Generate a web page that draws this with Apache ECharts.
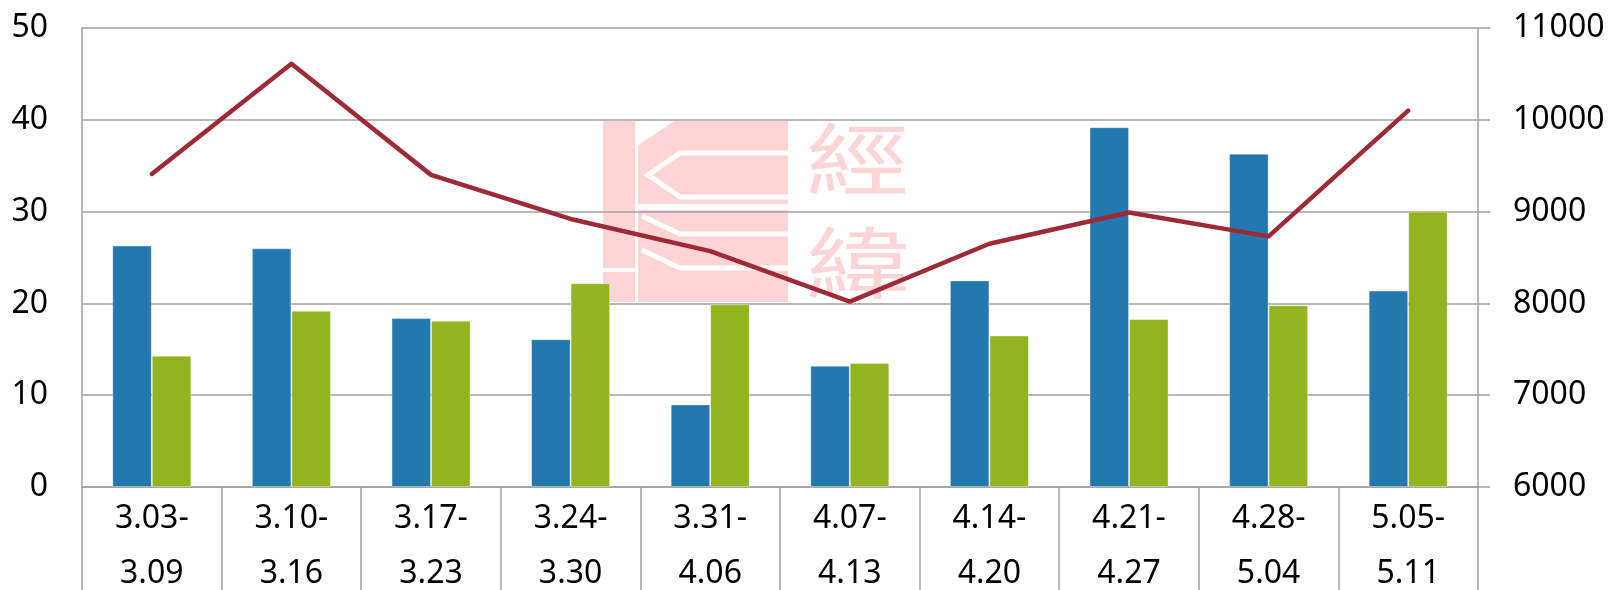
<!DOCTYPE html>
<html>
<head>
<meta charset="utf-8">
<script src="https://cdn.jsdelivr.net/npm/echarts@6/dist/echarts.min.js"></script>
<style>html,body{margin:0;padding:0;background:#fff}#c{width:1608px;height:590px}</style>
</head>
<body>
<div id="c"></div>
<script>
const categories = ['3.03-3.09','3.10-3.16','3.17-3.23','3.24-3.30','3.31-4.06','4.07-4.13','4.14-4.20','4.21-4.27','4.28-5.04','5.05-5.11'];
const blueValues = [26.3, 26.0, 18.4, 16.1, 9.0, 13.2, 22.5, 39.2, 36.3, 21.4];
const greenValues = [14.3, 19.2, 18.1, 22.2, 19.9, 13.5, 16.5, 18.3, 19.8, 30.0];
const lineValues = [9410, 10610, 9400, 8920, 8570, 8020, 8650, 8990, 8730, 10100];
const leftTicks = {min: 0, max: 50, interval: 10};
const rightTicks = {min: 6000, max: 11000, interval: 1000};

const gray = '#a0a0a0';
const font = '"Noto Sans", "DejaVu Sans", sans-serif';
const pink = '#ffd4d4';

const chart = echarts.init(document.getElementById('c'));
chart.setOption({
  animation: false,
  backgroundColor: '#fff',
  grid: {left: 82, right: 130, top: 28, bottom: 103, containLabel: false, outerBoundsMode: 'none'},
  graphic: [
    {type: 'rect', z: -10, silent: true, shape: {x: 603, y: 121, width: 32, height: 181}, style: {fill: pink}},
    {type: 'rect', z: -9, silent: true, shape: {x: 603, y: 268, width: 32, height: 4}, style: {fill: '#fff'}},
    {type: 'rect', z: -10, silent: true, shape: {x: 638, y: 121, width: 150, height: 181}, style: {fill: pink}},
    {type: 'polygon', z: -9, silent: true, shape: {points: [[637, 120], [676, 120], [637, 146]]}, style: {fill: '#fff'}},
    {type: 'polyline', z: -9, silent: true, shape: {points: [[789, 153], [680, 153], [648, 175], [680, 197], [789, 197]]}, style: {stroke: '#fff', lineWidth: 5, fill: null}},
    {type: 'rect', z: -9, silent: true, shape: {x: 638, y: 204, width: 150, height: 6}, style: {fill: '#fff'}},
    {type: 'polyline', z: -9, silent: true, shape: {points: [[642, 216], [680, 234], [789, 234]]}, style: {stroke: '#fff', lineWidth: 5, fill: null}},
    {type: 'polyline', z: -9, silent: true, shape: {points: [[642, 250], [680, 268], [789, 268]]}, style: {stroke: '#fff', lineWidth: 5, fill: null}},
    {type: 'text', z: -10, silent: true, x: 806, y: 120, scaleX: 1.33,
      style: {text: '經', font: '78px "Noto Sans CJK TC", sans-serif', fill: pink, textVerticalAlign: 'top'}},
    {type: 'text', z: -10, silent: true, x: 806, y: 224, scaleX: 1.33,
      style: {text: '緯', font: '78px "Noto Sans CJK TC", sans-serif', fill: pink, textVerticalAlign: 'top'}}
  ],
  xAxis: {
    type: 'category',
    data: categories,
    axisLine: {show: true, lineStyle: {color: gray, width: 1.5}},
    axisTick: {show: true, length: 110, lineStyle: {color: gray, width: 1.5}},
    axisLabel: {
      color: '#000', fontFamily: font, fontSize: 32, lineHeight: 55, margin: 4,
      formatter: v => v.replace('-', '-\n')
    },
    splitLine: {show: false}
  },
  yAxis: [
    {
      type: 'value', position: 'left',
      min: leftTicks.min, max: leftTicks.max, interval: leftTicks.interval,
      axisLine: {show: true, lineStyle: {color: gray, width: 1.5}},
      axisTick: {show: false},
      axisLabel: {color: '#000', fontFamily: font, fontSize: 32, margin: 34},
      splitLine: {show: true, lineStyle: {color: gray, width: 1.5}}
    },
    {
      type: 'value', position: 'right',
      min: rightTicks.min, max: rightTicks.max, interval: rightTicks.interval,
      axisLine: {show: true, lineStyle: {color: gray, width: 1.5}},
      axisTick: {show: true, inside: false, length: 12, lineStyle: {color: gray, width: 1.5}},
      axisLabel: {color: '#000', fontFamily: font, fontSize: 32, margin: 35, formatter: v => String(v)},
      splitLine: {show: false}
    }
  ],
  series: [
    {
      type: 'bar', data: blueValues, yAxisIndex: 0, barWidth: 39.5, barGap: '0%',
      itemStyle: {color: '#2478b0', borderColor: 'rgba(255,255,255,0.35)', borderWidth: 1}
    },
    {
      type: 'bar', data: greenValues, yAxisIndex: 0, barWidth: 39.5, barGap: '0%',
      itemStyle: {color: '#92b51f', borderColor: 'rgba(255,255,255,0.35)', borderWidth: 1}
    },
    {
      type: 'line', data: lineValues, yAxisIndex: 1, symbol: 'none', z: 5,
      lineStyle: {color: '#9e2a38', width: 4.5, cap: 'round', join: 'round'}
    }
  ]
});
</script>
</body>
</html>
